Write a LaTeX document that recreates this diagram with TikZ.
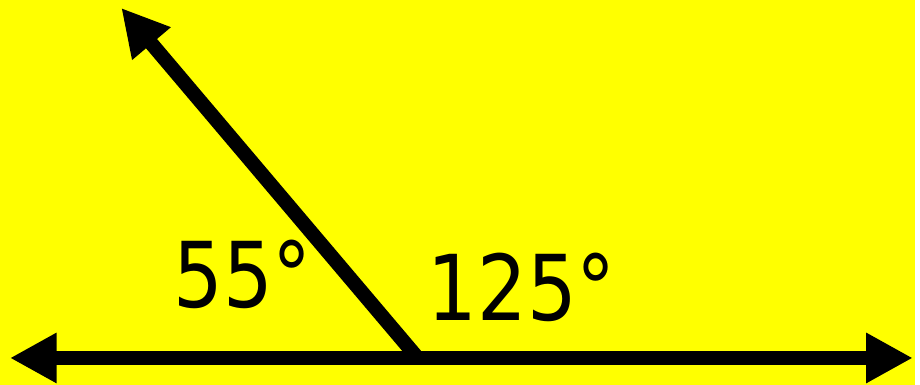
\documentclass[tikz,border=0pt]{standalone}
\usepackage{fontspec}
\setmainfont[FakeStretch=0.86]{DejaVu Sans}
\usetikzlibrary{arrows.meta}
\definecolor{bgyellow}{HTML}{FFFF00}

\tikzset{
  ray/.style={line width=0.29cm,-{Triangle[length=0.94cm,width=0.95cm]}},
  anglelabel/.style={font=\fontsize{52}{52}\selectfont,inner sep=0pt}
}

\begin{document}
\begin{tikzpicture}[x=0.02cm,y=-0.02cm]
\fill[bgyellow] (0,0) rectangle (920,387);
% points of the figure
\coordinate (vertex) at (420,360);
\coordinate (leftend) at (10,360);
\coordinate (rightend) at (918,360);
\coordinate (topend) at (122,8);
% rays
\draw[ray] (vertex)--(leftend);
\draw[ray] (vertex)--(rightend);
\draw[ray] (vertex)--(topend);
% labels
\node[anglelabel,anchor=base west] (small) at (174,309){55°};
\node[anglelabel,anchor=base west] (large) at (430,322){125°};
\end{tikzpicture}
\end{document}
